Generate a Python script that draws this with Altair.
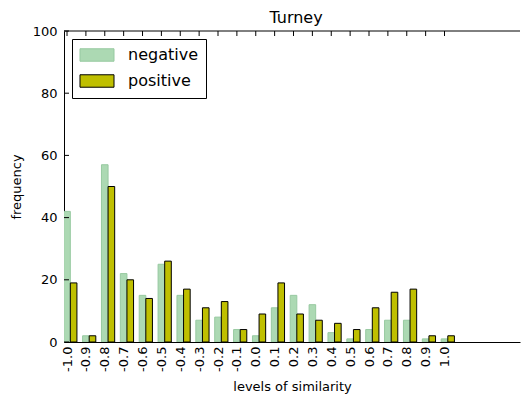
import altair as alt
import pandas as pd

levels = [-1.0, -0.9, -0.8, -0.7, -0.6, -0.5, -0.4, -0.3, -0.2, -0.1, 0.0,
          0.1, 0.2, 0.3, 0.4, 0.5, 0.6, 0.7, 0.8, 0.9, 1.0]
negative = [42, 2, 57, 22, 15, 25, 15, 7, 8, 4, 2, 11, 15, 12, 3, 1, 4, 7, 7, 1, 1]
positive = [19, 2, 50, 20, 14, 26, 17, 11, 13, 4, 9, 19, 9, 7, 6, 4, 11, 16, 17, 2, 2]
series = ["negative", "positive"]
y_ticks = [0, 20, 40, 60, 80, 100]

BAR_W = 0.035
FONT = "DejaVu Sans"
W, H = 456, 311

rows = []
for i, lv in enumerate(levels):
    rows.append({"level": lv, "series": "negative", "count": negative[i], "slot": 0})
    rows.append({"level": lv, "series": "positive", "count": positive[i], "slot": 1})
df = pd.DataFrame(rows)

xscale = alt.Scale(domain=[-1.016, 1.4], nice=False, zero=False)
yscale = alt.Scale(domain=[0, 100], nice=False)

xaxis = alt.Axis(
    values=levels, labelAngle=270, tickSize=0, labelPadding=4,
    labelExpr="datum.value < 0 ? '-' + format(abs(datum.value), '.1f') : format(datum.value, '.1f')",
    labelFont=FONT, labelFontSize=13, labelColor="black",
    domainColor="black", domainWidth=1, grid=False,
    title="levels of similarity", titleFont=FONT, titleFontSize=13,
    titleFontWeight="normal", titleColor="black",
    titleBaseline="alphabetic", titleY=48,
)
yaxis = alt.Axis(
    values=y_ticks, tickSize=0, labelPadding=7,
    labelFont=FONT, labelFontSize=13, labelColor="black",
    domainColor="black", domainWidth=1, grid=False,
    title="frequency", titleFont=FONT, titleFontSize=13,
    titleFontWeight="normal", titleColor="black", titleX=-41,
)

legend = alt.Legend(
    orient="none", legendX=8, legendY=8, title=None,
    strokeColor="black", fillColor="white", padding=8, cornerRadius=0,
    labelFont=FONT, labelFontSize=16, labelColor="black",
    symbolType="M-2.43,-0.89H2.43V0.89H-2.43Z", symbolSize=196,
    symbolStrokeWidth=1, symbolOffset=9, labelOffset=23, rowPadding=8,
)

bars = alt.Chart(df).transform_calculate(
    x0=f"datum.level + (datum.slot - 0.5) * {BAR_W}",
    x1=f"datum.level + (datum.slot + 0.5) * {BAR_W}",
).mark_rect(strokeWidth=1, clip=True).encode(
    x=alt.X("x0:Q", scale=xscale, axis=xaxis),
    x2="x1:Q",
    y=alt.Y("count:Q", scale=yscale, axis=yaxis),
    y2=alt.Y2(datum=0),
    fill=alt.Fill("series:N", scale=alt.Scale(domain=series, range=["#acd9b3", "#bfbf00"]), legend=legend),
    stroke=alt.Stroke("series:N", scale=alt.Scale(domain=series, range=["#97c9a0", "#000000"]), legend=legend),
)

top_line = alt.Chart(pd.DataFrame({"k": [0]})).mark_rule(color="black", strokeWidth=1).encode(
    x=alt.value(0), x2=alt.value(W), y=alt.value(0)
)

top_ticks = alt.Chart(pd.DataFrame({"level": levels})).mark_rule(color="black", strokeWidth=1).encode(
    x=alt.X("level:Q", scale=xscale, axis=xaxis), y=alt.value(0), y2=alt.value(5)
)

left_ticks = alt.Chart(pd.DataFrame({"v": y_ticks})).mark_rule(color="black", strokeWidth=1).encode(
    y=alt.Y("v:Q", scale=yscale, axis=yaxis), x=alt.value(0), x2=alt.value(5)
)

chart = alt.layer(bars, top_line, top_ticks, left_ticks).properties(
    width=W, height=H,
    title=alt.TitleParams(text="Turney", font=FONT, fontSize=16, fontWeight="normal",
                          color="black", anchor="middle", baseline="alphabetic",
                          frame="group", offset=7, dy=21, dx=4),
    autosize=alt.AutoSizeParams(type="none"),
    padding={"left": 64, "top": 31, "right": 1, "bottom": 52},
    background="white",
).configure_view(stroke=None)

chart.save("out.html", embed_options={"renderer": "svg", "actions": False})
